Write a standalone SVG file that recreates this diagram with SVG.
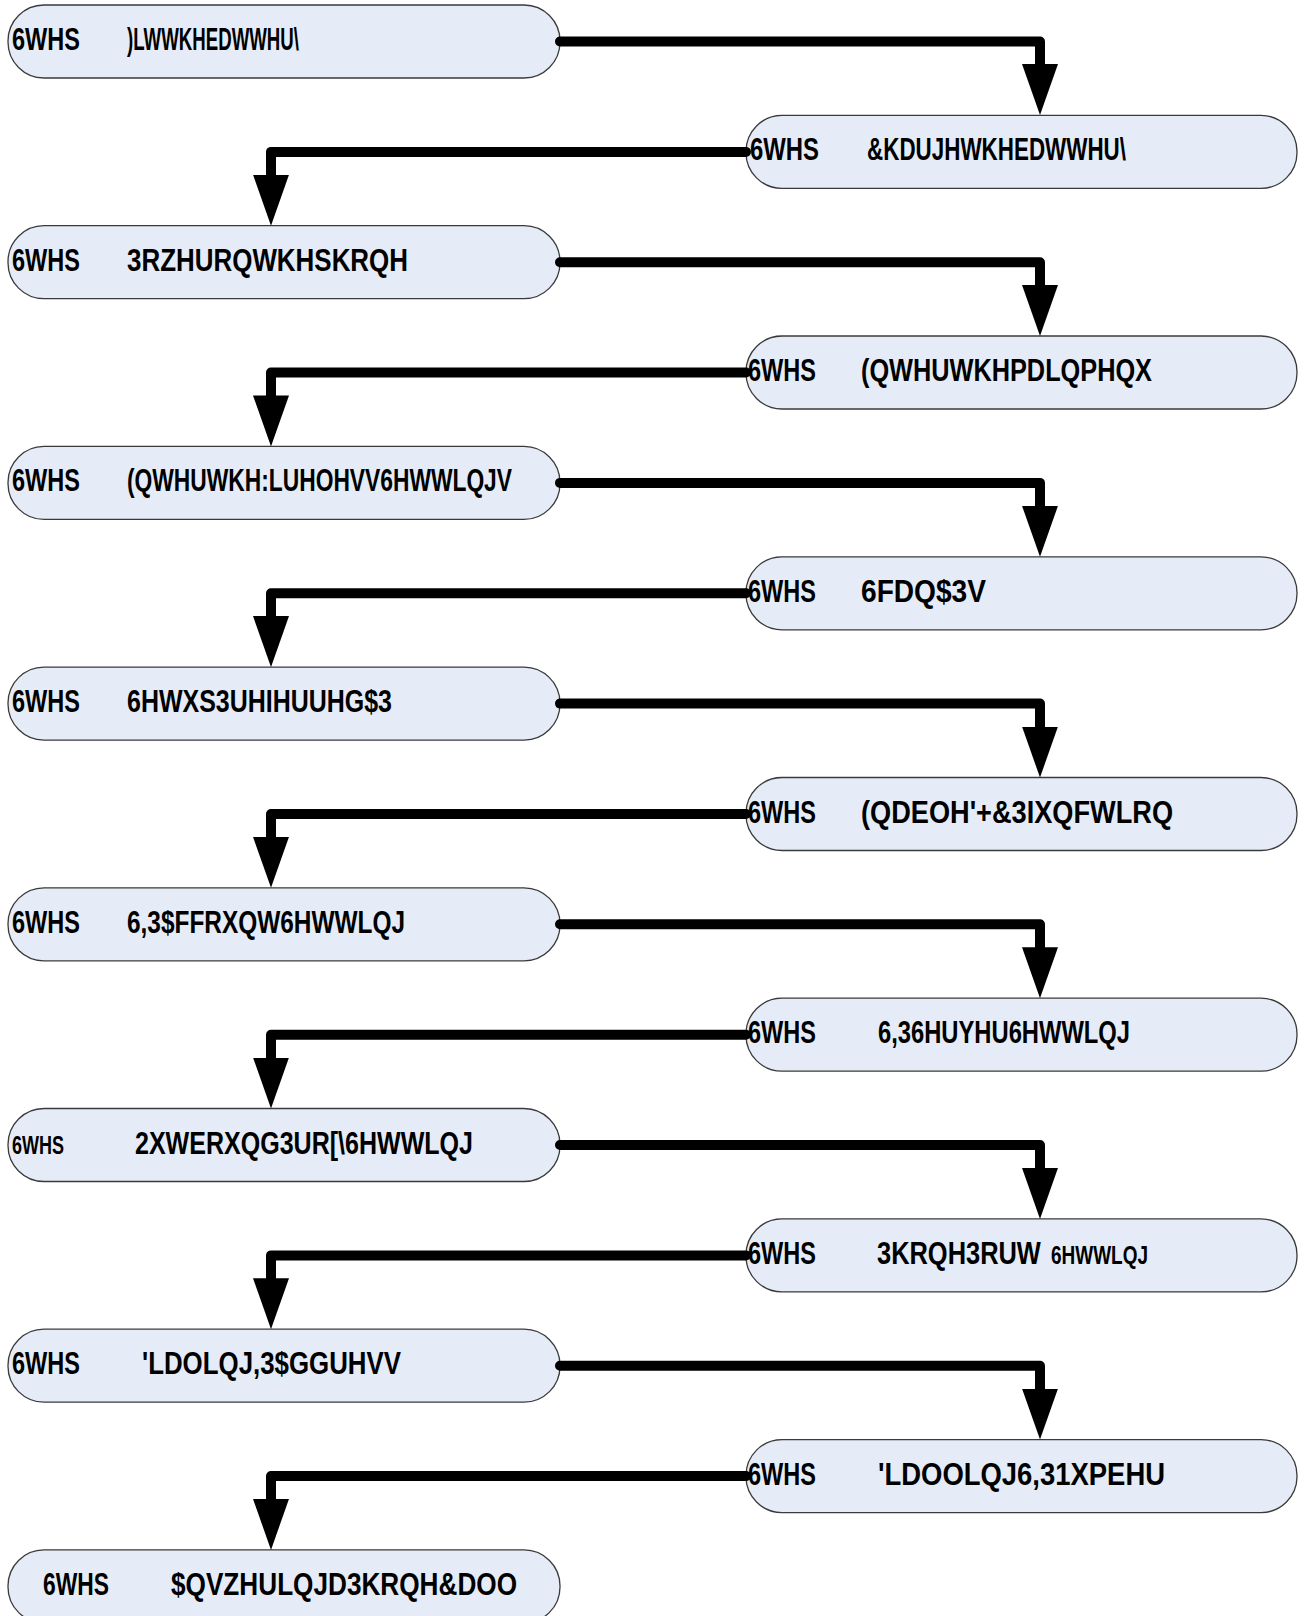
<svg xmlns="http://www.w3.org/2000/svg" width="1305" height="1616" viewBox="0 0 1305 1616">
<style>
.bg{fill:#ffffff}
.n{fill:#E5ECF7;stroke:#3a3a3a;stroke-width:1.3}
.t{font-family:"Liberation Sans",Arial,sans-serif;font-weight:bold;font-size:32px;fill:#000}
.s{font-family:"Liberation Sans",Arial,sans-serif;font-weight:bold;font-size:26px;fill:#000}
.c{fill:none;stroke:#000;stroke-width:10;stroke-linecap:round;stroke-linejoin:round}
</style>
<defs>
<marker id="ah" markerUnits="userSpaceOnUse" viewBox="0 0 51 36" refX="0" refY="18" markerWidth="51" markerHeight="36" orient="auto">
<path d="M0,0 L51,18 L0,36 Z" fill="#000"/>
</marker>
</defs>
<rect class="bg" x="0" y="0" width="1305" height="1616"/>
<g id="nodes">
<g id="n1" transform="translate(8,5)"><rect class="n" width="552" height="73" rx="36" ry="36"/><text class="t" x="4" y="45" textLength="68" lengthAdjust="spacingAndGlyphs">6WHS</text><text class="t" x="119" y="45" textLength="172" lengthAdjust="spacingAndGlyphs">)LWWKHEDWWHU\</text></g>
<g id="n2" transform="translate(746,115.4)"><rect class="n" width="551" height="73" rx="36" ry="36"/><text class="t" x="4" y="45" textLength="69" lengthAdjust="spacingAndGlyphs">6WHS</text><text class="t" x="121" y="45" textLength="259" lengthAdjust="spacingAndGlyphs">&amp;KDUJHWKHEDWWHU\</text></g>
<g id="n3" transform="translate(8,225.7)"><rect class="n" width="552" height="73" rx="36" ry="36"/><text class="t" x="4" y="45" textLength="68" lengthAdjust="spacingAndGlyphs">6WHS</text><text class="t" x="119" y="45" textLength="281" lengthAdjust="spacingAndGlyphs">3RZHURQWKHSKRQH</text></g>
<g id="n4" transform="translate(746,336)"><rect class="n" width="551" height="73" rx="36" ry="36"/><text class="t" x="2" y="45" textLength="68" lengthAdjust="spacingAndGlyphs">6WHS</text><text class="t" x="115" y="45" textLength="291" lengthAdjust="spacingAndGlyphs">(QWHUWKHPDLQPHQX</text></g>
<g id="n5" transform="translate(8,446.4)"><rect class="n" width="552" height="73" rx="36" ry="36"/><text class="t" x="4" y="45" textLength="68" lengthAdjust="spacingAndGlyphs">6WHS</text><text class="t" x="119" y="45" textLength="385" lengthAdjust="spacingAndGlyphs">(QWHUWKH:LUHOHVV6HWWLQJV</text></g>
<g id="n6" transform="translate(746,556.8)"><rect class="n" width="551" height="73" rx="36" ry="36"/><text class="t" x="2" y="45" textLength="68" lengthAdjust="spacingAndGlyphs">6WHS</text><text class="t" x="115" y="45" textLength="125" lengthAdjust="spacingAndGlyphs">6FDQ$3V</text></g>
<g id="n7" transform="translate(8,667.1)"><rect class="n" width="552" height="73" rx="36" ry="36"/><text class="t" x="4" y="45" textLength="68" lengthAdjust="spacingAndGlyphs">6WHS</text><text class="t" x="119" y="45" textLength="265" lengthAdjust="spacingAndGlyphs">6HWXS3UHIHUUHG$3</text></g>
<g id="n8" transform="translate(746,777.5)"><rect class="n" width="551" height="73" rx="36" ry="36"/><text class="t" x="2" y="45" textLength="68" lengthAdjust="spacingAndGlyphs">6WHS</text><text class="t" x="115" y="45" textLength="312" lengthAdjust="spacingAndGlyphs">(QDEOH'+&amp;3IXQFWLRQ</text></g>
<g id="n9" transform="translate(8,887.8)"><rect class="n" width="552" height="73" rx="36" ry="36"/><text class="t" x="4" y="45" textLength="68" lengthAdjust="spacingAndGlyphs">6WHS</text><text class="t" x="119" y="45" textLength="278" lengthAdjust="spacingAndGlyphs">6,3$FFRXQW6HWWLQJ</text></g>
<g id="n10" transform="translate(746,998.2)"><rect class="n" width="551" height="73" rx="36" ry="36"/><text class="t" x="2" y="45" textLength="68" lengthAdjust="spacingAndGlyphs">6WHS</text><text class="t" x="132" y="45" textLength="252" lengthAdjust="spacingAndGlyphs">6,36HUYHU6HWWLQJ</text></g>
<g id="n11" transform="translate(8,1108.5)"><rect class="n" width="552" height="73" rx="36" ry="36"/><text class="s" x="4" y="45" textLength="52" lengthAdjust="spacingAndGlyphs">6WHS</text><text class="t" x="127" y="45" textLength="338" lengthAdjust="spacingAndGlyphs">2XWERXQG3UR[\6HWWLQJ</text></g>
<g id="n12" transform="translate(746,1218.9)"><rect class="n" width="551" height="73" rx="36" ry="36"/><text class="t" x="2" y="45" textLength="68" lengthAdjust="spacingAndGlyphs">6WHS</text><text class="t" transform="translate(131,45) scale(0.795,1)">3KRQH3RUW</text><text class="s" transform="translate(305,45) scale(0.73,1)">6HWWLQJ</text></g>
<g id="n13" transform="translate(8,1329.2)"><rect class="n" width="552" height="73" rx="36" ry="36"/><text class="t" x="4" y="45" textLength="68" lengthAdjust="spacingAndGlyphs">6WHS</text><text class="t" x="134" y="45" textLength="259" lengthAdjust="spacingAndGlyphs">'LDOLQJ,3$GGUHVV</text></g>
<g id="n14" transform="translate(746,1439.6)"><rect class="n" width="551" height="73" rx="36" ry="36"/><text class="t" x="2" y="45" textLength="68" lengthAdjust="spacingAndGlyphs">6WHS</text><text class="t" x="132" y="45" textLength="287" lengthAdjust="spacingAndGlyphs">'LDOOLQJ6,31XPEHU</text></g>
<g id="n15" transform="translate(8,1549.9)"><rect class="n" width="552" height="73" rx="36" ry="36"/><text class="t" x="35" y="45" textLength="66" lengthAdjust="spacingAndGlyphs">6WHS</text><text class="t" x="163" y="45" textLength="346" lengthAdjust="spacingAndGlyphs">$QVZHULQJD3KRQH&amp;DOO</text></g>
</g>
<g id="connectors">
<path class="c" marker-end="url(#ah)" d="M560,41.5 H1040 V64"/>
<path class="c" marker-end="url(#ah)" d="M746,151.9 H271 V174.7"/>
<path class="c" marker-end="url(#ah)" d="M560,262.2 H1040 V285"/>
<path class="c" marker-end="url(#ah)" d="M746,372.5 H271 V395.4"/>
<path class="c" marker-end="url(#ah)" d="M560,482.9 H1040 V505.8"/>
<path class="c" marker-end="url(#ah)" d="M746,593.3 H271 V616.1"/>
<path class="c" marker-end="url(#ah)" d="M560,703.6 H1040 V726.5"/>
<path class="c" marker-end="url(#ah)" d="M746,814 H271 V836.8"/>
<path class="c" marker-end="url(#ah)" d="M560,924.3 H1040 V947.2"/>
<path class="c" marker-end="url(#ah)" d="M746,1034.7 H271 V1057.5"/>
<path class="c" marker-end="url(#ah)" d="M560,1145 H1040 V1167.9"/>
<path class="c" marker-end="url(#ah)" d="M746,1255.4 H271 V1278.2"/>
<path class="c" marker-end="url(#ah)" d="M560,1365.7 H1040 V1388.6"/>
<path class="c" marker-end="url(#ah)" d="M746,1476.1 H271 V1498.9"/>
</g>
</svg>
